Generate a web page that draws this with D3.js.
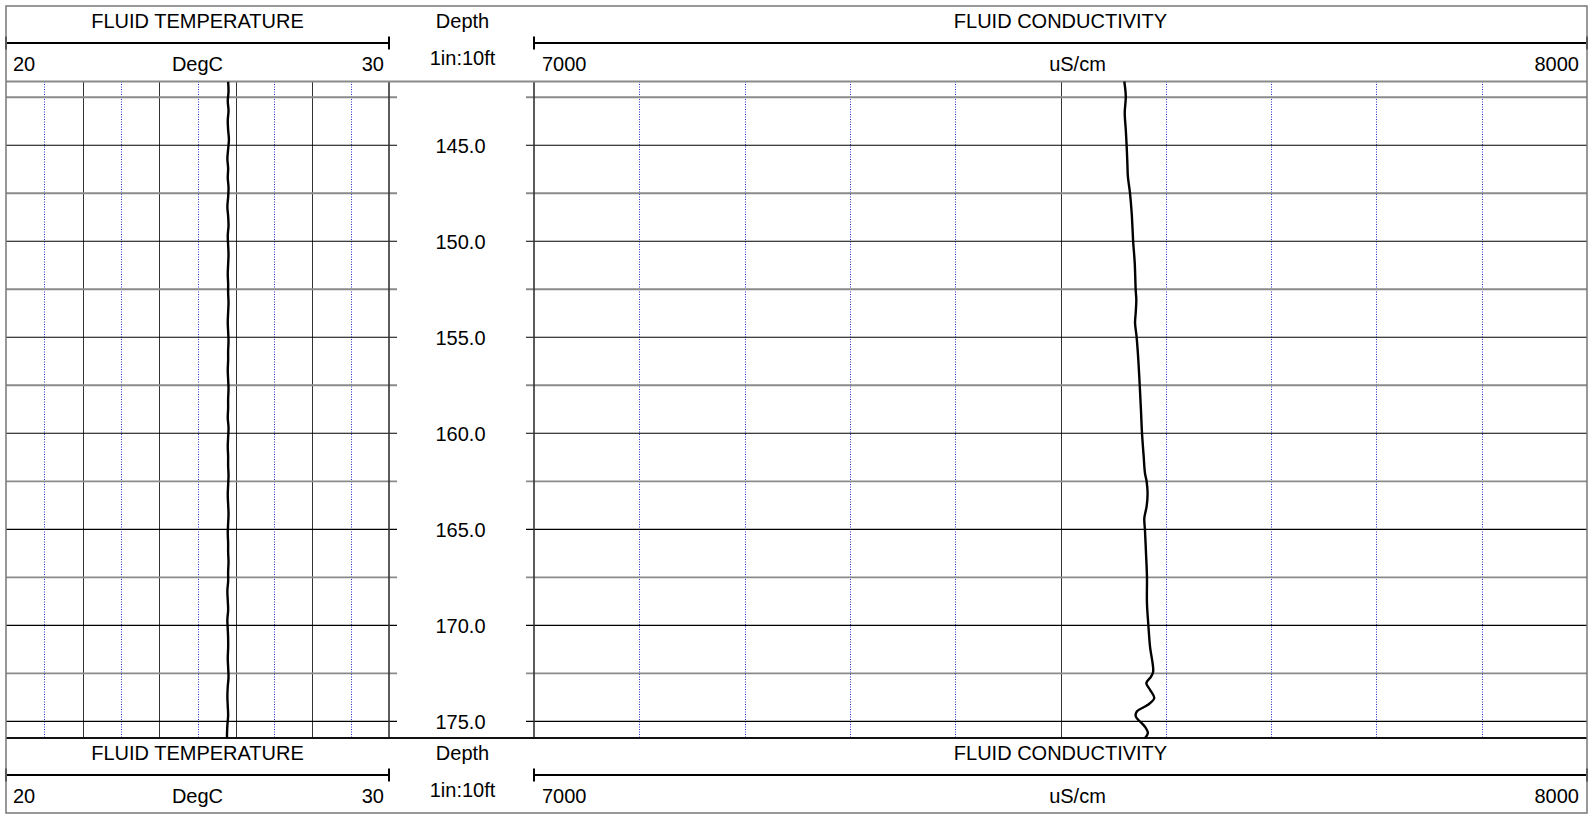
<!DOCTYPE html>
<html>
<head>
<meta charset="utf-8">
<script src="https://cdn.jsdelivr.net/npm/d3@7/dist/d3.min.js"></script>
<style>
  html, body { margin: 0; padding: 0; background: #fff; }
  svg { display: block; font-family: "Liberation Sans", Arial, sans-serif; }
</style>
</head>
<body>
<svg id="log" width="1593" height="815"></svg>
<script>
// Track titles and scale labels
const trackTitles = ["FLUID TEMPERATURE", "Depth", "FLUID CONDUCTIVITY"];
const tempScaleLabels = ["20", "DegC", "30"];
const condScaleLabels = ["7000", "uS/cm", "8000"];
const depthScaleLabel = "1in:10ft";

// Axis ranges
const tempRange = [20, 30];
const condRange = [7000, 8000];
const depthRange = [141.68, 175.87];

// Grid ticks
const tempMajorTicks = [22, 24, 26, 28];
const tempMinorTicks = [21, 23, 25, 27, 29];
const condMajorTicks = [7500];
const condMinorTicks = [7100, 7200, 7300, 7400, 7600, 7700, 7800, 7900];
const depthLabelTicks = [145, 150, 155, 160, 165, 170, 175];
const depthHalfTicks = [142.5, 147.5, 152.5, 157.5, 162.5, 167.5, 172.5];

// Fluid temperature log (ft, DegC)
const tempDepth = [141.7, 142.2, 142.7, 143.2, 143.7, 144.2, 144.7, 145.2, 145.7, 146.2,
  146.7, 147.2, 147.7, 148.2, 148.7, 149.2, 149.7, 150.2, 150.7, 151.2,
  151.7, 152.2, 152.7, 153.2, 153.7, 154.2, 154.7, 155.2, 155.7, 156.2,
  156.7, 157.2, 157.7, 158.2, 158.7, 159.2, 159.7, 160.2, 160.7, 161.2,
  161.7, 162.2, 162.7, 163.2, 163.7, 164.2, 164.7, 165.2, 165.7, 166.2,
  166.7, 167.2, 167.7, 168.2, 168.7, 169.2, 169.7, 170.2, 170.7, 171.2,
  171.7, 172.2, 172.7, 173.2, 173.7, 174.2, 174.7, 175.2, 175.7, 175.87];
const tempValue = [25.80, 25.81, 25.79, 25.81, 25.79, 25.80, 25.82, 25.80, 25.78, 25.80,
  25.79, 25.81, 25.80, 25.78, 25.80, 25.81, 25.79, 25.80, 25.81, 25.80,
  25.79, 25.80, 25.80, 25.81, 25.80, 25.79, 25.80, 25.81, 25.80, 25.80,
  25.79, 25.80, 25.81, 25.80, 25.80, 25.79, 25.81, 25.80, 25.79, 25.80,
  25.80, 25.81, 25.80, 25.79, 25.80, 25.81, 25.80, 25.79, 25.80, 25.80,
  25.81, 25.80, 25.80, 25.78, 25.79, 25.80, 25.78, 25.79, 25.80, 25.80,
  25.79, 25.80, 25.81, 25.79, 25.78, 25.79, 25.80, 25.78, 25.77, 25.77];

// Fluid conductivity log (ft, uS/cm)
const condDepth = [141.68, 142.46, 143.32, 144.19, 145.01, 145.93, 146.63, 147.49, 148.53, 149.57,
  150.01, 151.14, 152.53, 153.05, 153.74, 154.26, 154.99, 156.17, 157.47, 158.78,
  159.99, 161.21, 162.07, 162.51, 163.11, 163.81, 164.42, 165.03, 166.24, 167.46,
  168.84, 169.97, 171.10, 172.41, 172.67, 173.01, 173.36, 173.79, 174.14, 174.49,
  174.75, 175.01, 175.27, 175.61, 175.87];
const condValue = [7560.6, 7562.0, 7561.0, 7562.0, 7562.8, 7563.5, 7564.0, 7566.0, 7567.6, 7568.6,
  7569.0, 7570.5, 7571.4, 7572.0, 7571.4, 7570.8, 7572.3, 7573.9, 7575.2, 7576.4,
  7577.4, 7579.0, 7580.2, 7581.8, 7582.7, 7581.8, 7579.6, 7580.2, 7581.2, 7582.1,
  7582.1, 7583.4, 7585.0, 7588.0, 7586.0, 7581.5, 7585.0, 7589.0, 7583.0, 7572.5,
  7571.5, 7575.5, 7580.0, 7583.0, 7580.2];

// ---- layout ----
const svg = d3.select("#log");
const frame = { left: 6, right: 1587, top: 6, bottom: 813 };
const plotTop = 81.5, plotBottom = 738;
const tempX = [6, 389];
const condX = [534, 1587];
const depthX = [389, 534];
const fs = 20;

const xTemp = d3.scaleLinear().domain(tempRange).range(tempX);
const xCond = d3.scaleLinear().domain(condRange).range(condX);
const yDepth = d3.scaleLinear().domain(depthRange).range([plotTop, plotBottom]);

const gridBlue = "#2a2acc";
const gridGray = "#8a8a8a";

// ---- grid ----
const grid = svg.append("g");

function verticalGrid(ticks, scale, kind) {
  grid.selectAll(null).data(ticks).join("line")
    .attr("x1", d => Math.round(scale(d)) + 0.5)
    .attr("x2", d => Math.round(scale(d)) + 0.5)
    .attr("y1", plotTop).attr("y2", plotBottom)
    .attr("stroke", kind === "minor" ? gridBlue : "#333")
    .attr("stroke-width", 1)
    .attr("stroke-dasharray", kind === "minor" ? "1,1.5" : null);
}
verticalGrid(tempMinorTicks, xTemp, "minor");
verticalGrid(tempMajorTicks, xTemp, "major");
verticalGrid(condMinorTicks, xCond, "minor");
verticalGrid(condMajorTicks, xCond, "major");

function horizontalGrid(ticks, color, width) {
  // temperature track plus a short tick into the depth column
  grid.selectAll(null).data(ticks).join("line")
    .attr("x1", tempX[0]).attr("x2", tempX[1] + 8)
    .attr("y1", d => yDepth(d)).attr("y2", d => yDepth(d))
    .attr("stroke", color).attr("stroke-width", width);
  // conductivity track, tick starts inside the depth column
  grid.selectAll(null).data(ticks).join("line")
    .attr("x1", condX[0] - 8).attr("x2", condX[1])
    .attr("y1", d => yDepth(d)).attr("y2", d => yDepth(d))
    .attr("stroke", color).attr("stroke-width", width);
}
horizontalGrid(depthHalfTicks, gridGray, 1.8);
horizontalGrid(depthLabelTicks, "#000", 1.2);

// track edges inside the plot band
grid.selectAll(null).data([tempX[1], condX[0]]).join("line")
  .attr("x1", d => d).attr("x2", d => d)
  .attr("y1", plotTop).attr("y2", plotBottom)
  .attr("stroke", "#333").attr("stroke-width", 1.6);

// plot band top / bottom rules
svg.append("line").attr("x1", frame.left).attr("x2", frame.right)
  .attr("y1", plotTop).attr("y2", plotTop)
  .attr("stroke", gridGray).attr("stroke-width", 1.8);
svg.append("line").attr("x1", frame.left).attr("x2", frame.right)
  .attr("y1", plotBottom).attr("y2", plotBottom)
  .attr("stroke", "#111").attr("stroke-width", 2);

// depth labels
svg.append("g").selectAll("text").data(depthLabelTicks).join("text")
  .attr("x", d3.mean(depthX) - 1)
  .attr("y", d => yDepth(d) + 8)
  .attr("text-anchor", "middle")
  .attr("font-size", fs)
  .text(d => d.toFixed(1));

// ---- curves ----
const tempData = tempDepth.map((d, i) => ({ d, v: tempValue[i] }));
const condData = condDepth.map((d, i) => ({ d, v: condValue[i] }));

svg.append("path").datum(tempData)
  .attr("fill", "none").attr("stroke", "#000").attr("stroke-width", 2.4)
  .attr("d", d3.line().x(p => xTemp(p.v)).y(p => yDepth(p.d)).curve(d3.curveCatmullRom));
svg.append("path").datum(condData)
  .attr("fill", "none").attr("stroke", "#000").attr("stroke-width", 2.4)
  .attr("d", d3.line().x(p => xCond(p.v)).y(p => yDepth(p.d)).curve(d3.curveCatmullRom));

// ---- header & footer bands ----
function band(y0) {
  const g = svg.append("g").attr("transform", `translate(0,${y0})`);

  // titles
  g.append("text").attr("x", d3.mean(tempX)).attr("y", 21.5)
    .attr("text-anchor", "middle").attr("font-size", fs).text(trackTitles[0]);
  g.append("text").attr("x", d3.mean(depthX) + 1).attr("y", 21.5)
    .attr("text-anchor", "middle").attr("font-size", fs).text(trackTitles[1]);
  g.append("text").attr("x", d3.mean(condX)).attr("y", 21.5)
    .attr("text-anchor", "middle").attr("font-size", fs).text(trackTitles[2]);

  // scale bars with end caps
  [tempX, condX].forEach(([a, b]) => {
    g.append("line").attr("x1", a).attr("x2", b).attr("y1", 37).attr("y2", 37)
      .attr("stroke", "#000").attr("stroke-width", 2.2);
    [a, b].forEach(x => g.append("line").attr("x1", x).attr("x2", x)
      .attr("y1", 30.5).attr("y2", 43.5).attr("stroke", "#000").attr("stroke-width", 2));
  });

  // scale labels
  g.append("text").attr("x", tempX[0] + 7).attr("y", 65).attr("font-size", fs)
    .text(tempScaleLabels[0]);
  g.append("text").attr("x", d3.mean(tempX)).attr("y", 65).attr("font-size", fs)
    .attr("text-anchor", "middle").text(tempScaleLabels[1]);
  g.append("text").attr("x", tempX[1] - 5).attr("y", 65).attr("font-size", fs)
    .attr("text-anchor", "end").text(tempScaleLabels[2]);

  g.append("text").attr("x", d3.mean(depthX) + 1).attr("y", 59).attr("font-size", fs)
    .attr("text-anchor", "middle").text(depthScaleLabel);

  g.append("text").attr("x", condX[0] + 8).attr("y", 65).attr("font-size", fs)
    .text(condScaleLabels[0]);
  g.append("text").attr("x", d3.mean(condX) + 17).attr("y", 65).attr("font-size", fs)
    .attr("text-anchor", "middle").text(condScaleLabels[1]);
  g.append("text").attr("x", condX[1] - 8).attr("y", 65).attr("font-size", fs)
    .attr("text-anchor", "end").text(condScaleLabels[2]);
}
band(frame.top);
band(plotBottom);

// outer frame
svg.append("rect")
  .attr("x", frame.left).attr("y", frame.top)
  .attr("width", frame.right - frame.left).attr("height", frame.bottom - frame.top)
  .attr("fill", "none").attr("stroke", "#777").attr("stroke-width", 1.5);
</script>
</body>
</html>
